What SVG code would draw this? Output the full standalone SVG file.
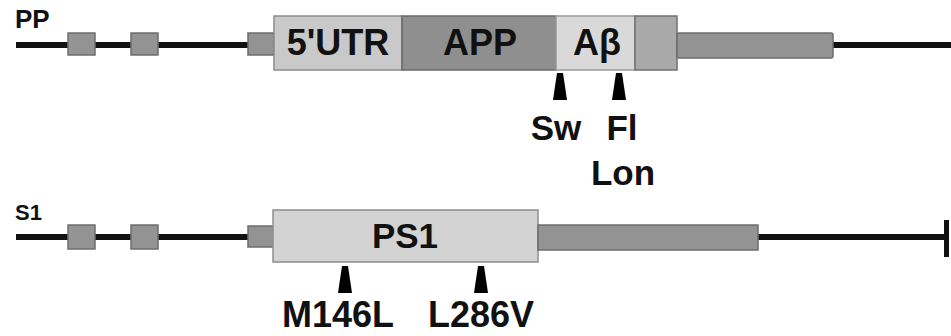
<svg xmlns="http://www.w3.org/2000/svg" width="951" height="336" viewBox="0 0 951 336">
<style>
text{font-family:"Liberation Sans",Arial,sans-serif;font-weight:bold;fill:#111}
.big{font-size:35px;text-anchor:middle}
.lbl{font-size:26px}
.ln{stroke:#111;stroke-width:6;fill:none}
.ex{fill:#939393;stroke:#6e6e6e;stroke-width:1.5}
.arrow{fill:#000}
</style>
<defs>
<path id="tri" d="M-3,0 L3,0 L7,27 L-7,27 Z"/>
</defs>
<rect width="951" height="336" fill="#fff"/>
<g id="connectors">
<line class="ln" x1="16" y1="45" x2="951" y2="45"/>
<line class="ln" x1="16" y1="237" x2="945" y2="237"/>
<line x1="946.5" y1="220" x2="946.5" y2="257" stroke="#111" stroke-width="5"/>
</g>
<g id="app-label"><text class="lbl" x="15" y="28">PP</text></g>
<g id="app-exon1"><rect class="ex" x="68" y="33" width="27" height="22"/></g>
<g id="app-exon2"><rect class="ex" x="131" y="33" width="27" height="22"/></g>
<g id="app-exon3"><rect class="ex" x="248" y="33" width="26" height="22"/></g>
<g id="utr5"><rect x="274" y="16" width="128" height="54" fill="#c9c9c9" stroke="#8a8a8a" stroke-width="1.5"/><text class="big" x="338" y="55" style="font-size:36px">5'UTR</text></g>
<g id="app"><rect x="402" y="16" width="154" height="54" fill="#8f8f8f" stroke="#6a6a6a" stroke-width="1.5"/><text class="big" x="480" y="55" style="font-size:36px">APP</text></g>
<g id="abeta"><rect x="556" y="16" width="79" height="54" fill="#d9d9d9" stroke="#9a9a9a" stroke-width="1.5"/><text class="big" x="597" y="55" style="font-size:36px">Aβ</text></g>
<g id="app-tail-box"><rect x="635" y="16" width="42" height="54" fill="#a9a9a9" stroke="#707070" stroke-width="1.5"/></g>
<g id="app-utr3"><rect class="ex" x="677" y="33" width="156" height="25" rx="2"/></g>
<g id="sw"><use href="#tri" class="arrow" x="560" y="73"/><text class="big" x="556" y="140">Sw</text></g>
<g id="fl"><use href="#tri" class="arrow" x="619" y="73"/><text class="big" x="622" y="140">Fl</text><text class="big" x="623" y="185">Lon</text></g>
<g id="ps1-label"><text class="lbl" x="15" y="220" style="font-size:22px">S1</text></g>
<g id="ps1-exon1"><rect class="ex" x="68" y="225" width="27" height="24"/></g>
<g id="ps1-exon2"><rect class="ex" x="131" y="225" width="27" height="24"/></g>
<g id="ps1-exon3"><rect class="ex" x="248" y="226" width="26" height="21"/></g>
<g id="ps1"><rect x="273" y="210" width="265" height="52" fill="#d3d3d3" stroke="#8e8e8e" stroke-width="1.5"/><text class="big" x="405" y="248">PS1</text></g>
<g id="ps1-utr3"><rect class="ex" x="538" y="225" width="220" height="25"/></g>
<g id="m146l"><use href="#tri" class="arrow" x="345" y="266"/><text class="big" x="338" y="327" style="font-size:36px">M146L</text></g>
<g id="l286v"><use href="#tri" class="arrow" x="481" y="266"/><text class="big" x="481" y="327" style="font-size:36px">L286V</text></g>
</svg>
